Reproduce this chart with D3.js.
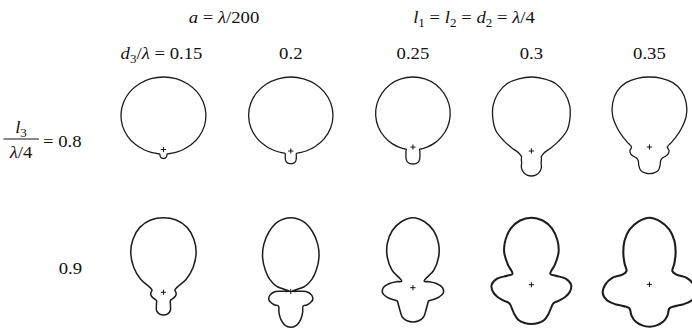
<!DOCTYPE html>
<html>
<head>
<meta charset="utf-8">
<script src="https://cdn.jsdelivr.net/npm/d3@7"></script>
<style>
  body { margin: 0; background: #fff; }
  svg { display: block; }
</style>
</head>
<body>
<svg id="chart" width="692" height="330"></svg>
<script>
// ---- data -------------------------------------------------------------
// Polar angle (degrees, measured clockwise from the main-beam direction).
// The patterns are left/right symmetric, so only 0..180 is listed.
const angles = [0, 10, 20, 30, 40, 50, 60, 70, 80, 90, 100, 110, 120, 130, 140, 150, 160, 170, 180];

// Column and row parameters
const spacingLabels = ["0.15", "0.2", "0.25", "0.3", "0.35"];   // d3 / λ
const lengthLabels = ["0.8", "0.9"];                             // l3 / (λ/4)

// Relative field strength, row l3/(λ/4) = 0.8
const r08_015 = [72.5, 71.9, 70.0, 66.8, 61.9, 55.4, 47.3, 37.9, 28.3, 19.9, 14.0, 10.2, 8.0, 6.6, 5.8, 6.8, 8.2, 8.8, 9.0];
const r08_020 = [74.0, 73.3, 71.3, 67.7, 62.3, 55.1, 46.0, 35.4, 24.4, 15.3, 9.5, 6.4, 6.3, 7.2, 8.6, 10.5, 12.0, 12.5, 12.6];
const r08_025 = [70.1, 69.2, 66.6, 62.1, 56.1, 48.6, 39.9, 30.5, 21.5, 14.1, 9.2, 7.0, 8.1, 9.1, 10.9, 13.5, 16.0, 16.7, 16.9];
const r08_030 = [74.0, 73.2, 71.6, 66.7, 59.5, 50.3, 41.1, 29.0, 20.4, 15.1, 12.6, 11.7, 11.4, 13.1, 15.2, 19.8, 22.8, 24.5, 25.0];
const r08_035 = [70.0, 69.8, 68.5, 64.5, 57.3, 48.0, 36.9, 27.9, 21.5, 17.9, 19.8, 20.0, 18.5, 17.0, 17.5, 21.3, 25.2, 26.3, 26.7];

// Relative field strength, row l3/(λ/4) = 0.9
const r09_015 = [74.6, 73.4, 69.1, 61.1, 50.8, 38.7, 26.3, 14.4, 11.6, 12.5, 12.8, 12.4, 11.6, 11.0, 10.8, 14.0, 19.8, 22.1, 22.7];
const r09_020 = [73.8, 71.2, 63.6, 54.1, 43.8, 33.2, 24.3, 14.9, 1.5, 15.3, 21.2, 23.4, 22.6, 21.0, 19.1, 23.8, 29.4, 34.2, 35.7];
const r09_025 = [70.0, 67.0, 60.6, 51.2, 39.9, 27.3, 13.0, 17.5, 23.8, 29.6, 30.8, 27.7, 23.5, 20.6, 22.5, 26.0, 31.2, 33.6, 34.3];
const r09_030 = [67.0, 65.2, 60.0, 51.8, 42.3, 30.4, 21.8, 26.0, 34.8, 39.7, 39.2, 36.0, 31.8, 28.8, 30.5, 34.0, 37.6, 38.9, 39.3];
const r09_035 = [66.7, 63.8, 58.3, 50.0, 40.7, 32.5, 26.5, 28.7, 37.8, 44.0, 47.5, 45.5, 39.5, 33.8, 31.2, 36.0, 39.8, 41.6, 42.3];

const patterns = [
  [r08_015, r08_020, r08_025, r08_030, r08_035],
  [r09_015, r09_020, r09_025, r09_030, r09_035]
];

// ---- layout -----------------------------------------------------------
const svg = d3.select("#chart");
const FONT = "Liberation Serif";
const rowTop = [77, 217.7];          // top of the main beam in each row
const firstLeft = 121;               // left edge of the first column
const columnGap = 42.7;              // gap between neighbouring patterns of the first row
const strokeW = [[1.3, 1.3, 1.3, 1.3, 1.3], [1.5, 1.5, 1.6, 2.0, 2.1]];

const rScale = d3.scaleLinear().domain([0, 80]).range([0, 80]);
const toRad = d => d * Math.PI / 180;

// Full 360° trace from the symmetric half pattern
function fullPattern(r) {
  const right = angles.map((a, i) => ({ a, r: r[i] }));
  const left = angles.slice(1, -1).reverse().map(a => ({ a: 360 - a, r: r[angles.indexOf(a)] }));
  return right.concat(left);
}

const radial = d3.lineRadial()
  .angle(d => toRad(d.a))
  .radius(d => rScale(d.r))
  .curve(d3.curveCatmullRomClosed.alpha(0.5));

// Column centres: first-row patterns laid side by side with equal gaps
const halfWidth = r => d3.max(angles, (a, i) => rScale(r[i]) * Math.sin(toRad(a)));
const colX = [];
let edge = firstLeft;
patterns[0].forEach(r => {
  const w = halfWidth(r);
  colX.push(edge + w);
  edge += 2 * w + columnGap;
});

patterns.forEach((row, ri) => {
  row.forEach((r, ci) => {
    const cx = colX[ci];
    const cy = rowTop[ri] + rScale(r[0]);
    const g = svg.append("g").attr("transform", `translate(${cx},${cy})`);
    g.append("path")
      .attr("d", radial(fullPattern(r)))
      .attr("fill", "none")
      .attr("stroke", "#1c1c1c")
      .attr("stroke-width", strokeW[ri][ci])
      .attr("stroke-linejoin", "round");
    // origin marker
    g.append("path")
      .attr("d", "M-2.6,0H2.6M0,-2.6V2.6")
      .attr("stroke", "#111")
      .attr("stroke-width", 1);
  });
});

// ---- text -------------------------------------------------------------
// Serif labels, slightly widened horizontally
function rich(x, y, parts, anchor, size) {
  const t = svg.append("text")
    .attr("transform", `translate(${x},${y}) scale(1.1,1)`)
    .attr("text-anchor", anchor || "middle")
    .attr("font-family", FONT)
    .attr("font-size", size || 17)
    .attr("fill", "#111");
  parts.forEach(p => {
    const s = t.append("tspan").text(p.t);
    if (p.i) s.attr("font-style", "italic");
    if (p.sub) s.attr("font-size", "0.7em").attr("dy", 4);
    if (p.up) s.attr("dy", -4);
  });
  return t;
}

rich(224, 23, [{ t: "a", i: true }, { t: " = " }, { t: "λ", i: true }, { t: "/200" }]);
rich(474, 23, [
  { t: "l", i: true }, { t: "1", sub: true }, { t: " = ", up: true },
  { t: "l", i: true }, { t: "2", sub: true }, { t: " = ", up: true },
  { t: "d", i: true }, { t: "2", sub: true }, { t: " = ", up: true },
  { t: "λ", i: true }, { t: "/4" }
]);

// column headers
spacingLabels.forEach((lab, i) => {
  if (i === 0) {
    rich(colX[0] - 2, 59, [{ t: "d", i: true }, { t: "3", sub: true }, { t: "/", up: true }, { t: "λ", i: true }, { t: " = " + lab }]);
  } else {
    rich(colX[i], 59, [{ t: lab }]);
  }
});

// row labels
rich(21, 133, [{ t: "l", i: true }, { t: "3", sub: true }]);
svg.append("line").attr("x1", 3.5).attr("x2", 39).attr("y1", 139).attr("y2", 139)
  .attr("stroke", "#111").attr("stroke-width", 1);
rich(21, 158, [{ t: "λ", i: true }, { t: "/4" }]);
rich(43, 146.5, [{ t: "= " + lengthLabels[0] }], "start");
rich(82, 274, [{ t: lengthLabels[1] }], "end");
</script>
</body>
</html>
